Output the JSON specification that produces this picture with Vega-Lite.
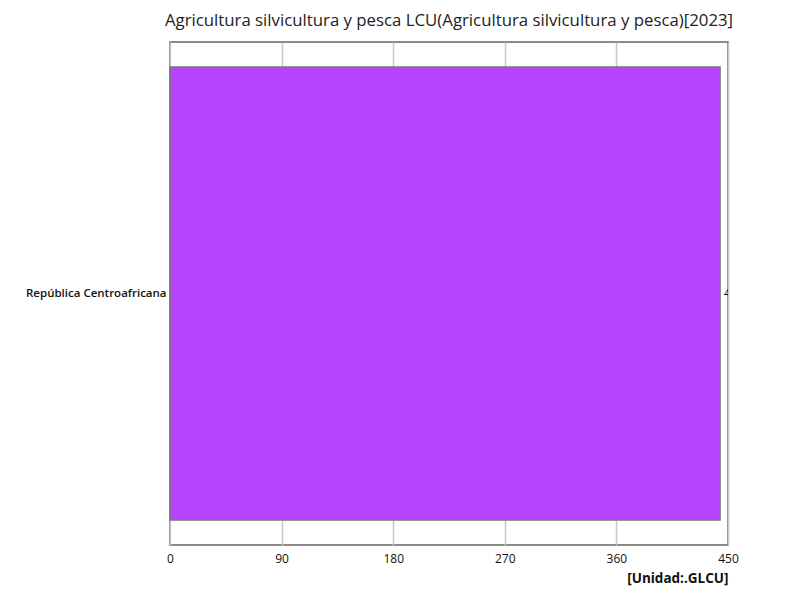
{
  "$schema": "https://vega.github.io/schema/vega-lite/v6.json",
  "autosize": "none",
  "padding": {"left": 170, "top": 42, "right": 72, "bottom": 55},
  "width": 558,
  "height": 503,
  "title": {
    "text": "Agricultura silvicultura y pesca LCU(Agricultura silvicultura y pesca)[2023]",
    "font": "Open Sans",
    "fontSize": 16.8,
    "fontWeight": "normal",
    "color": "#222",
    "offset": 12
  },
  "data": {
    "values": [
      {"pais": "República Centroafricana", "valor": 443.6}
    ]
  },
  "layer": [
    {
      "mark": {"type": "bar", "color": "#b845fd", "stroke": "#777", "strokeWidth": 1.5},
      "encoding": {
        "y": {
          "field": "pais",
          "type": "nominal",
          "title": null,
          "scale": {"paddingInner": 0, "paddingOuter": 0.055},
          "axis": {"ticks": false, "domain": false, "labelFontWeight": 600, "labelFontSize": 11.5, "labelPadding": 4}
        },
        "x": {
          "field": "valor",
          "type": "quantitative",
          "title": "[Unidad:.GLCU]",
          "scale": {"domain": [0, 450]},
          "axis": {
            "values": [0, 90, 180, 270, 360, 450],
            "ticks": false,
            "domain": false,
            "labelFlush": false,
            "labelPadding": 8,
            "titleAnchor": "end",
            "titleAlign": "right",
            "titleFontWeight": "bold",
            "titleFontSize": 13.5,
            "titlePadding": 7
          }
        }
      }
    },
    {
      "mark": {"type": "text", "align": "left", "dx": 4, "clip": true, "font": "Open Sans", "fontSize": 11},
      "encoding": {
        "y": {"field": "pais", "type": "nominal"},
        "x": {"field": "valor", "type": "quantitative"},
        "text": {"field": "valor", "type": "quantitative", "format": ".1f"}
      }
    }
  ],
  "config": {
    "view": {"stroke": "#666", "strokeWidth": 1.5},
    "axis": {
      "labelFont": "Open Sans",
      "labelFontSize": 12,
      "labelColor": "#111",
      "titleFont": "Open Sans",
      "titleColor": "#111",
      "gridColor": "#c8c8c8",
      "gridWidth": 1.5
    },
    "axisY": {"grid": false}
  }
}
